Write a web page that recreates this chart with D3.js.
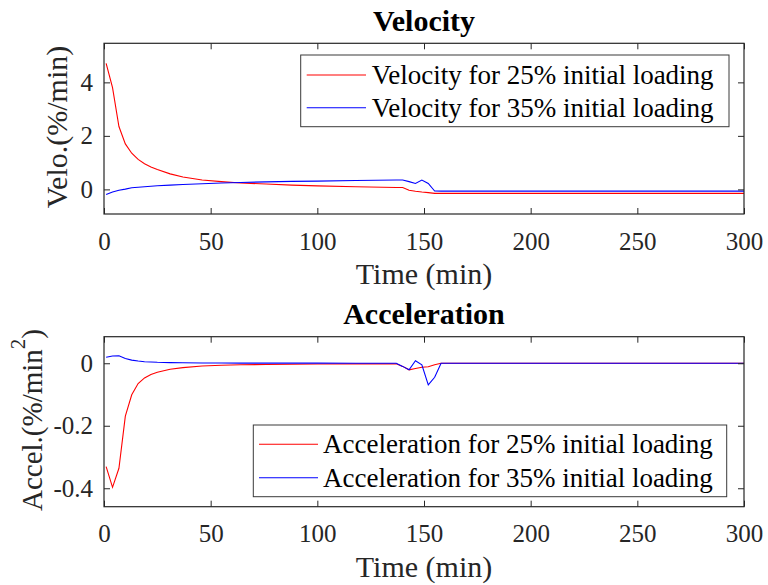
<!DOCTYPE html>
<html>
<head>
<meta charset="utf-8">
<script src="https://cdn.jsdelivr.net/npm/d3@7/dist/d3.min.js"></script>
<style>
  html, body { margin: 0; padding: 0; background: #fff; }
  svg { display: block; font-family: "Liberation Serif", "Times New Roman", serif; }
</style>
</head>
<body>
<svg id="chart" width="768" height="585"></svg>
<script>
// Sample times (min)
const time = [1, 4, 7, 10, 13, 16, 19, 22, 25, 31, 37, 46, 55, 64, 76, 88, 100, 118, 137, 140, 143, 146, 149, 152, 155, 158, 200, 250, 300];

// Velocity (%/min)
const velo25 = [4.71, 3.8, 2.35, 1.7, 1.35, 1.12, 0.96, 0.84, 0.74, 0.58, 0.46, 0.35, 0.29, 0.24, 0.2, 0.16, 0.13, 0.1, 0.07, 0.07, -0.03, -0.07, -0.1, -0.12, -0.15, -0.15, -0.15, -0.15, -0.15];
const velo35 = [-0.19, -0.1, -0.03, 0.01, 0.06, 0.08, 0.1, 0.12, 0.135, 0.16, 0.185, 0.21, 0.24, 0.26, 0.28, 0.3, 0.31, 0.33, 0.35, 0.35, 0.29, 0.22, 0.35, 0.22, -0.06, -0.065, -0.065, -0.065, -0.065];

// Acceleration (%/min^2)
const accel25 = [-0.331, -0.397, -0.336, -0.169, -0.101, -0.065, -0.047, -0.036, -0.029, -0.019, -0.014, -0.009, -0.0065, -0.005, -0.004, -0.003, -0.0025, -0.002, -0.0015, -0.01, -0.021, -0.017, -0.013, -0.011, -0.005, 0, 0, 0, 0];
const accel35 = [0.019, 0.023, 0.024, 0.015, 0.01, 0.007, 0.005, 0.004, 0.003, 0.002, 0.0015, 0.001, 0.0008, 0.0006, 0.0005, 0.0004, 0.0003, 0.0002, 0, -0.01, -0.021, 0.008, -0.005, -0.069, -0.045, 0, 0, 0, 0];

// Tick labels
const xTicks = [0, 50, 100, 150, 200, 250, 300];
const xTickLabels = ["0", "50", "100", "150", "200", "250", "300"];
const veloTicks = [0, 2, 4];
const veloTickLabels = ["0", "2", "4"];
const accelTicks = [-0.4, -0.2, 0];
const accelTickLabels = ["-0.4", "-0.2", "0"];

const seriesColors = ["#ff0000", "#0000ff"];
const ink = "#262626";

const svg = d3.select("#chart");

function panel(cfg) {
  const x = d3.scaleLinear().domain([0, 300]).range([cfg.left, cfg.right]);
  const y = d3.scaleLinear().domain(cfg.yDomain).range([cfg.bottom, cfg.top]);
  const g = svg.append("g");
  const clipId = "clip-" + cfg.id;
  svg.append("clipPath").attr("id", clipId).append("rect")
    .attr("x", cfg.left).attr("y", cfg.top)
    .attr("width", cfg.right - cfg.left).attr("height", cfg.bottom - cfg.top);

  const line = d3.line().x((d, i) => x(time[i])).y(d => y(d));
  cfg.series.forEach((s, k) => {
    g.append("path").datum(s)
      .attr("clip-path", `url(#${clipId})`)
      .attr("fill", "none").attr("stroke", seriesColors[k])
      .attr("stroke-width", 1.1).attr("d", line);
  });

  // Axes with inward ticks on all four sides
  const fmtX = v => xTickLabels[xTicks.indexOf(v)];
  const fmtY = v => cfg.yLabels[cfg.yTicks.indexOf(v)];
  const ax = g.append("g").attr("transform", `translate(0,${cfg.bottom})`)
    .call(d3.axisBottom(x).tickValues(xTicks).tickFormat(fmtX).tickSize(-6).tickPadding(18));
  const axT = g.append("g").attr("transform", `translate(0,${cfg.top})`)
    .call(d3.axisTop(x).tickValues(xTicks).tickFormat("").tickSize(-6));
  const ay = g.append("g").attr("transform", `translate(${cfg.left},0)`)
    .call(d3.axisLeft(y).tickValues(cfg.yTicks).tickFormat(fmtY).tickSize(-6).tickPadding(11));
  const ayR = g.append("g").attr("transform", `translate(${cfg.right},0)`)
    .call(d3.axisRight(y).tickValues(cfg.yTicks).tickFormat("").tickSize(-6));
  [ax, axT, ay, ayR].forEach(a => {
    a.select(".domain").remove();
    a.selectAll(".tick line").attr("stroke", ink).attr("stroke-width", 1);
    a.selectAll("text").attr("fill", ink).attr("font-size", 25)
      .attr("font-family", "Liberation Serif, Times New Roman, serif");
  });

  g.append("rect").attr("x", cfg.left).attr("y", cfg.top)
    .attr("width", cfg.right - cfg.left).attr("height", cfg.bottom - cfg.top)
    .attr("fill", "none").attr("stroke", ink).attr("stroke-width", 1.2);

  // Title
  g.append("text").attr("x", (cfg.left + cfg.right) / 2).attr("y", cfg.top - 12.5)
    .attr("text-anchor", "middle").attr("font-weight", "bold").attr("font-size", 30)
    .attr("fill", "#000").text(cfg.title);

  // X label
  g.append("text").attr("x", (cfg.left + cfg.right) / 2).attr("y", cfg.bottom + 70)
    .attr("text-anchor", "middle").attr("font-size", 30).attr("fill", ink).text("Time (min)");

  // Y label
  const yl = g.append("text")
    .attr("transform", `translate(${cfg.yLabelX},${cfg.yLabelY}) rotate(-90)`)
    .attr("text-anchor", "middle").attr("font-size", cfg.yLabelSize).attr("fill", ink);
  cfg.yLabel(yl);

  // Legend
  const L = cfg.legend;
  const lg = g.append("g");
  lg.append("rect").attr("x", L.x0).attr("y", L.y0)
    .attr("width", L.x1 - L.x0).attr("height", L.y1 - L.y0)
    .attr("fill", "#fff").attr("stroke", "#3a3a3a").attr("stroke-width", 1);
  L.labels.forEach((t, k) => {
    const yy = L.rows[k];
    lg.append("line").attr("x1", L.lineX0).attr("x2", L.lineX1)
      .attr("y1", yy).attr("y2", yy).attr("stroke", seriesColors[k]).attr("stroke-width", 1.1);
    lg.append("text").attr("x", L.textX).attr("y", yy).attr("dy", "0.33em")
      .attr("font-size", 27).attr("fill", "#000").text(t);
  });
}

panel({
  id: "velo", title: "Velocity",
  left: 104, right: 744, top: 43.3, bottom: 214,
  yDomain: [-0.92, 5.46], yTicks: veloTicks, yLabels: veloTickLabels,
  series: [velo25, velo35],
  yLabelX: 67, yLabelY: 127, yLabelSize: 30,
  yLabel: t => t.text("Velo.(%/min)"),
  legend: {
    x0: 300.7, x1: 729, y0: 55, y1: 126.7, rows: [75, 107.7],
    lineX0: 306.7, lineX1: 366, textX: 371.7,
    labels: ["Velocity for 25% initial loading", "Velocity for 35% initial loading"]
  }
});

panel({
  id: "accel", title: "Acceleration",
  left: 104, right: 744, top: 336.7, bottom: 506.7,
  yDomain: [-0.459, 0.085], yTicks: accelTicks, yLabels: accelTickLabels,
  series: [accel25, accel35],
  yLabelX: 42, yLabelY: 420, yLabelSize: 29,
  yLabel: t => {
    t.append("tspan").text("Accel.(%/min");
    t.append("tspan").attr("font-size", 21).attr("dy", -17).text("2");
    t.append("tspan").attr("dy", 17).text(")");
  },
  legend: {
    x0: 253.3, x1: 726.7, y0: 425, y1: 496.7, rows: [444.3, 477.7],
    lineX0: 259, lineX1: 318, textX: 323,
    labels: ["Acceleration for 25% initial loading", "Acceleration for 35% initial loading"]
  }
});
</script>
</body>
</html>
